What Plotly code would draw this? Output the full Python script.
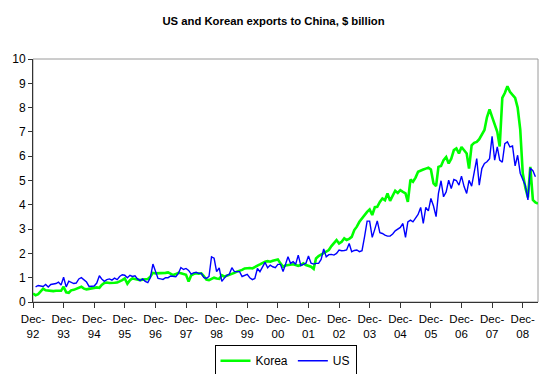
import pandas as pd
import plotly.graph_objects as go

# Korea monthly exports to China, Dec-1992 .. Jun-2009 ($ billion)
korea = [0.35,
    0.28, 0.32, 0.45, 0.55, 0.48, 0.46, 0.47, 0.45, 0.46, 0.47, 0.46, 0.63,
    0.40, 0.38, 0.48, 0.50, 0.55, 0.58, 0.63, 0.55, 0.52, 0.54, 0.56, 0.55,
    0.60, 0.58, 0.70, 0.78, 0.80, 0.78, 0.80, 0.79, 0.80, 0.84, 0.90, 0.97,
    0.75, 0.90, 0.97, 0.95, 0.93, 0.90, 0.92, 0.93, 0.95, 1.04, 1.20, 1.18,
    1.18, 1.17, 1.18, 1.20, 1.22, 1.18, 1.11, 1.15, 1.20, 1.18, 1.15, 1.12,
    0.84, 1.10, 1.15, 1.18, 1.17, 1.18, 1.07, 0.92, 0.90, 0.95, 1.00, 0.97,
    0.95, 1.10, 1.05, 1.08, 1.11, 1.15, 1.20, 1.25, 1.28, 1.32, 1.38, 1.40,
    1.40, 1.38, 1.45, 1.50, 1.55, 1.62, 1.66, 1.68, 1.66, 1.70, 1.73, 1.75,
    1.59, 1.45, 1.50, 1.52, 1.55, 1.55, 1.52, 1.49, 1.52, 1.59, 1.52, 1.50,
    1.45, 1.36, 1.79, 1.89, 1.95, 2.03, 2.07, 2.14, 2.30, 2.41, 2.55, 2.41,
    2.48, 2.62, 2.55, 2.60, 2.68, 2.96, 3.10, 3.30, 3.45, 3.60, 3.71, 3.81,
    3.58, 3.90, 3.92, 4.12, 4.26, 4.19, 4.47, 4.16, 4.40, 4.58, 4.49, 4.60,
    4.53, 4.47, 4.12, 5.04, 4.95, 5.12, 5.36, 5.42, 5.45, 5.49, 5.53, 5.45,
    4.88, 4.77, 5.56, 5.60, 5.84, 5.97, 5.70, 5.90, 6.25, 6.32, 6.11, 6.38,
    6.25, 6.11, 5.49, 6.45, 6.55, 6.59, 6.70, 6.90, 7.08, 7.60, 7.93, 7.62,
    7.30, 7.00, 6.40, 8.40, 8.60, 8.88, 8.65, 8.50, 8.40, 8.00, 7.10, 5.30,
    4.70, 4.30, 5.56, 4.20, 4.10, 4.05]

# US monthly exports to China, Jan-1993 .. May-2009 ($ billion)
us = [
    0.62, 0.68, 0.66, 0.64, 0.72, 0.62, 0.72, 0.74, 0.76, 0.82, 0.70, 1.02,
    0.62, 0.86, 0.82, 0.76, 0.78, 0.95, 1.00, 0.90, 0.82, 0.64, 0.64, 0.66,
    0.78, 1.08, 0.95, 0.85, 0.92, 0.95, 0.90, 0.98, 0.92, 1.05, 1.12, 1.10,
    1.00, 1.10, 1.05, 1.08, 0.95, 0.88, 0.95, 0.85, 0.80, 1.00, 1.56, 1.30,
    0.97, 0.95, 0.93, 1.00, 1.00, 1.07, 1.05, 1.04, 1.18, 1.42, 1.34, 1.38,
    1.30, 1.15, 1.20, 1.22, 1.18, 1.18, 1.01, 0.97, 1.05, 1.86, 1.80, 1.25,
    1.40, 0.85, 0.97, 1.10, 1.14, 1.41, 1.25, 1.25, 1.25, 1.05, 1.10, 1.14,
    1.00, 0.92, 0.97, 1.38, 1.25, 1.45, 1.63, 1.41, 1.52, 1.45, 1.41, 1.55,
    1.55, 1.25, 1.52, 1.86, 1.59, 1.66, 1.55, 1.93, 1.50, 1.55, 1.60, 1.89,
    1.60, 1.56, 1.59, 1.59, 1.75, 2.18, 1.86, 1.95, 1.96, 1.93, 2.00, 2.14,
    2.11, 2.12, 2.14, 2.41, 2.07, 2.12, 2.14, 2.07, 2.11, 2.68, 3.33, 3.33,
    2.66, 3.00, 3.34, 2.85, 2.82, 2.75, 2.71, 2.71, 2.80, 2.93, 3.00, 3.07,
    3.23, 2.66, 3.30, 3.37, 3.30, 3.45, 3.60, 3.89, 3.23, 3.89, 3.75, 4.26,
    3.95, 3.51, 4.47, 4.99, 4.33, 4.53, 5.01, 4.67, 5.04, 5.00, 4.81, 5.18,
    4.75, 4.47, 5.01, 4.77, 5.42, 5.90, 4.81, 5.49, 5.70, 5.77, 5.90, 6.82,
    5.84, 6.38, 5.84, 5.75, 6.52, 6.59, 6.38, 6.42, 5.60, 6.04, 5.30, 5.05,
    4.80, 4.20, 5.50, 5.40, 5.15]

korea_dates = pd.date_range("1992-12-01", periods=len(korea), freq="MS")
us_dates = pd.date_range("1993-01-01", periods=len(us), freq="MS")

tick_dates = [d.strftime("%Y-%m-%d") for d in pd.date_range("1992-12-01", "2008-12-01", freq="12MS")]
tick_labels = ["Dec-<br>%s" % d[2:4] for d in tick_dates]
y_ticks = list(range(0, 11))

fig = go.Figure()
fig.add_trace(go.Scatter(x=korea_dates, y=korea, mode="lines", name="Korea",
                         line=dict(color="#00FF00", width=2.6)))
fig.add_trace(go.Scatter(x=us_dates, y=us, mode="lines", name="US",
                         line=dict(color="#0000FF", width=1.4)))

fig.add_shape(type="rect", xref="paper", yref="paper", x0=0, x1=1, y0=0, y1=1,
              line=dict(color="#9a9a9a", width=1), layer="below")

fig.update_layout(
    width=547, height=374,
    margin=dict(l=33, r=9, t=59, b=72, autoexpand=False),
    paper_bgcolor="white", plot_bgcolor="white",
    font=dict(family="Liberation Sans, Arial, sans-serif", color="black", size=12),
    title=dict(text="<b>US and Korean exports to China, $ billion</b>",
               x=0.5, xanchor="center", y=0.945, yanchor="middle",
               font=dict(size=11.3)),
    showlegend=True,
    legend=dict(orientation="h", x=0.5, xanchor="center", y=-0.178, yanchor="top",
                bordercolor="black", borderwidth=1, bgcolor="white",
                font=dict(size=12), itemwidth=30, tracegroupgap=0),
    xaxis=dict(type="date", range=["1992-12-01", "2009-06-01"], autorange=False,
               tickmode="array", tickvals=tick_dates, ticktext=tick_labels,
               automargin=False,
               showgrid=False, zeroline=False,
               showline=True, linecolor="#333333", linewidth=1,
               ticks="outside", ticklen=5, tickcolor="#333333",
               ticklabelstandoff=1,
               tickfont=dict(size=11.5), tickangle=0),
    yaxis=dict(range=[0, 10], autorange=False, tickvals=y_ticks, automargin=False,
               showgrid=False, zeroline=False,
               showline=True, linecolor="#333333", linewidth=1,
               ticks="outside", ticklen=4, tickcolor="#333333",
               tickfont=dict(size=12)),
)

fig.write_html("out.html",
               config={"displayModeBar": False},
               post_script="document.body.style.margin='0';"
                           "document.body.style.padding='0';"
                           "document.body.style.overflow='hidden';")
